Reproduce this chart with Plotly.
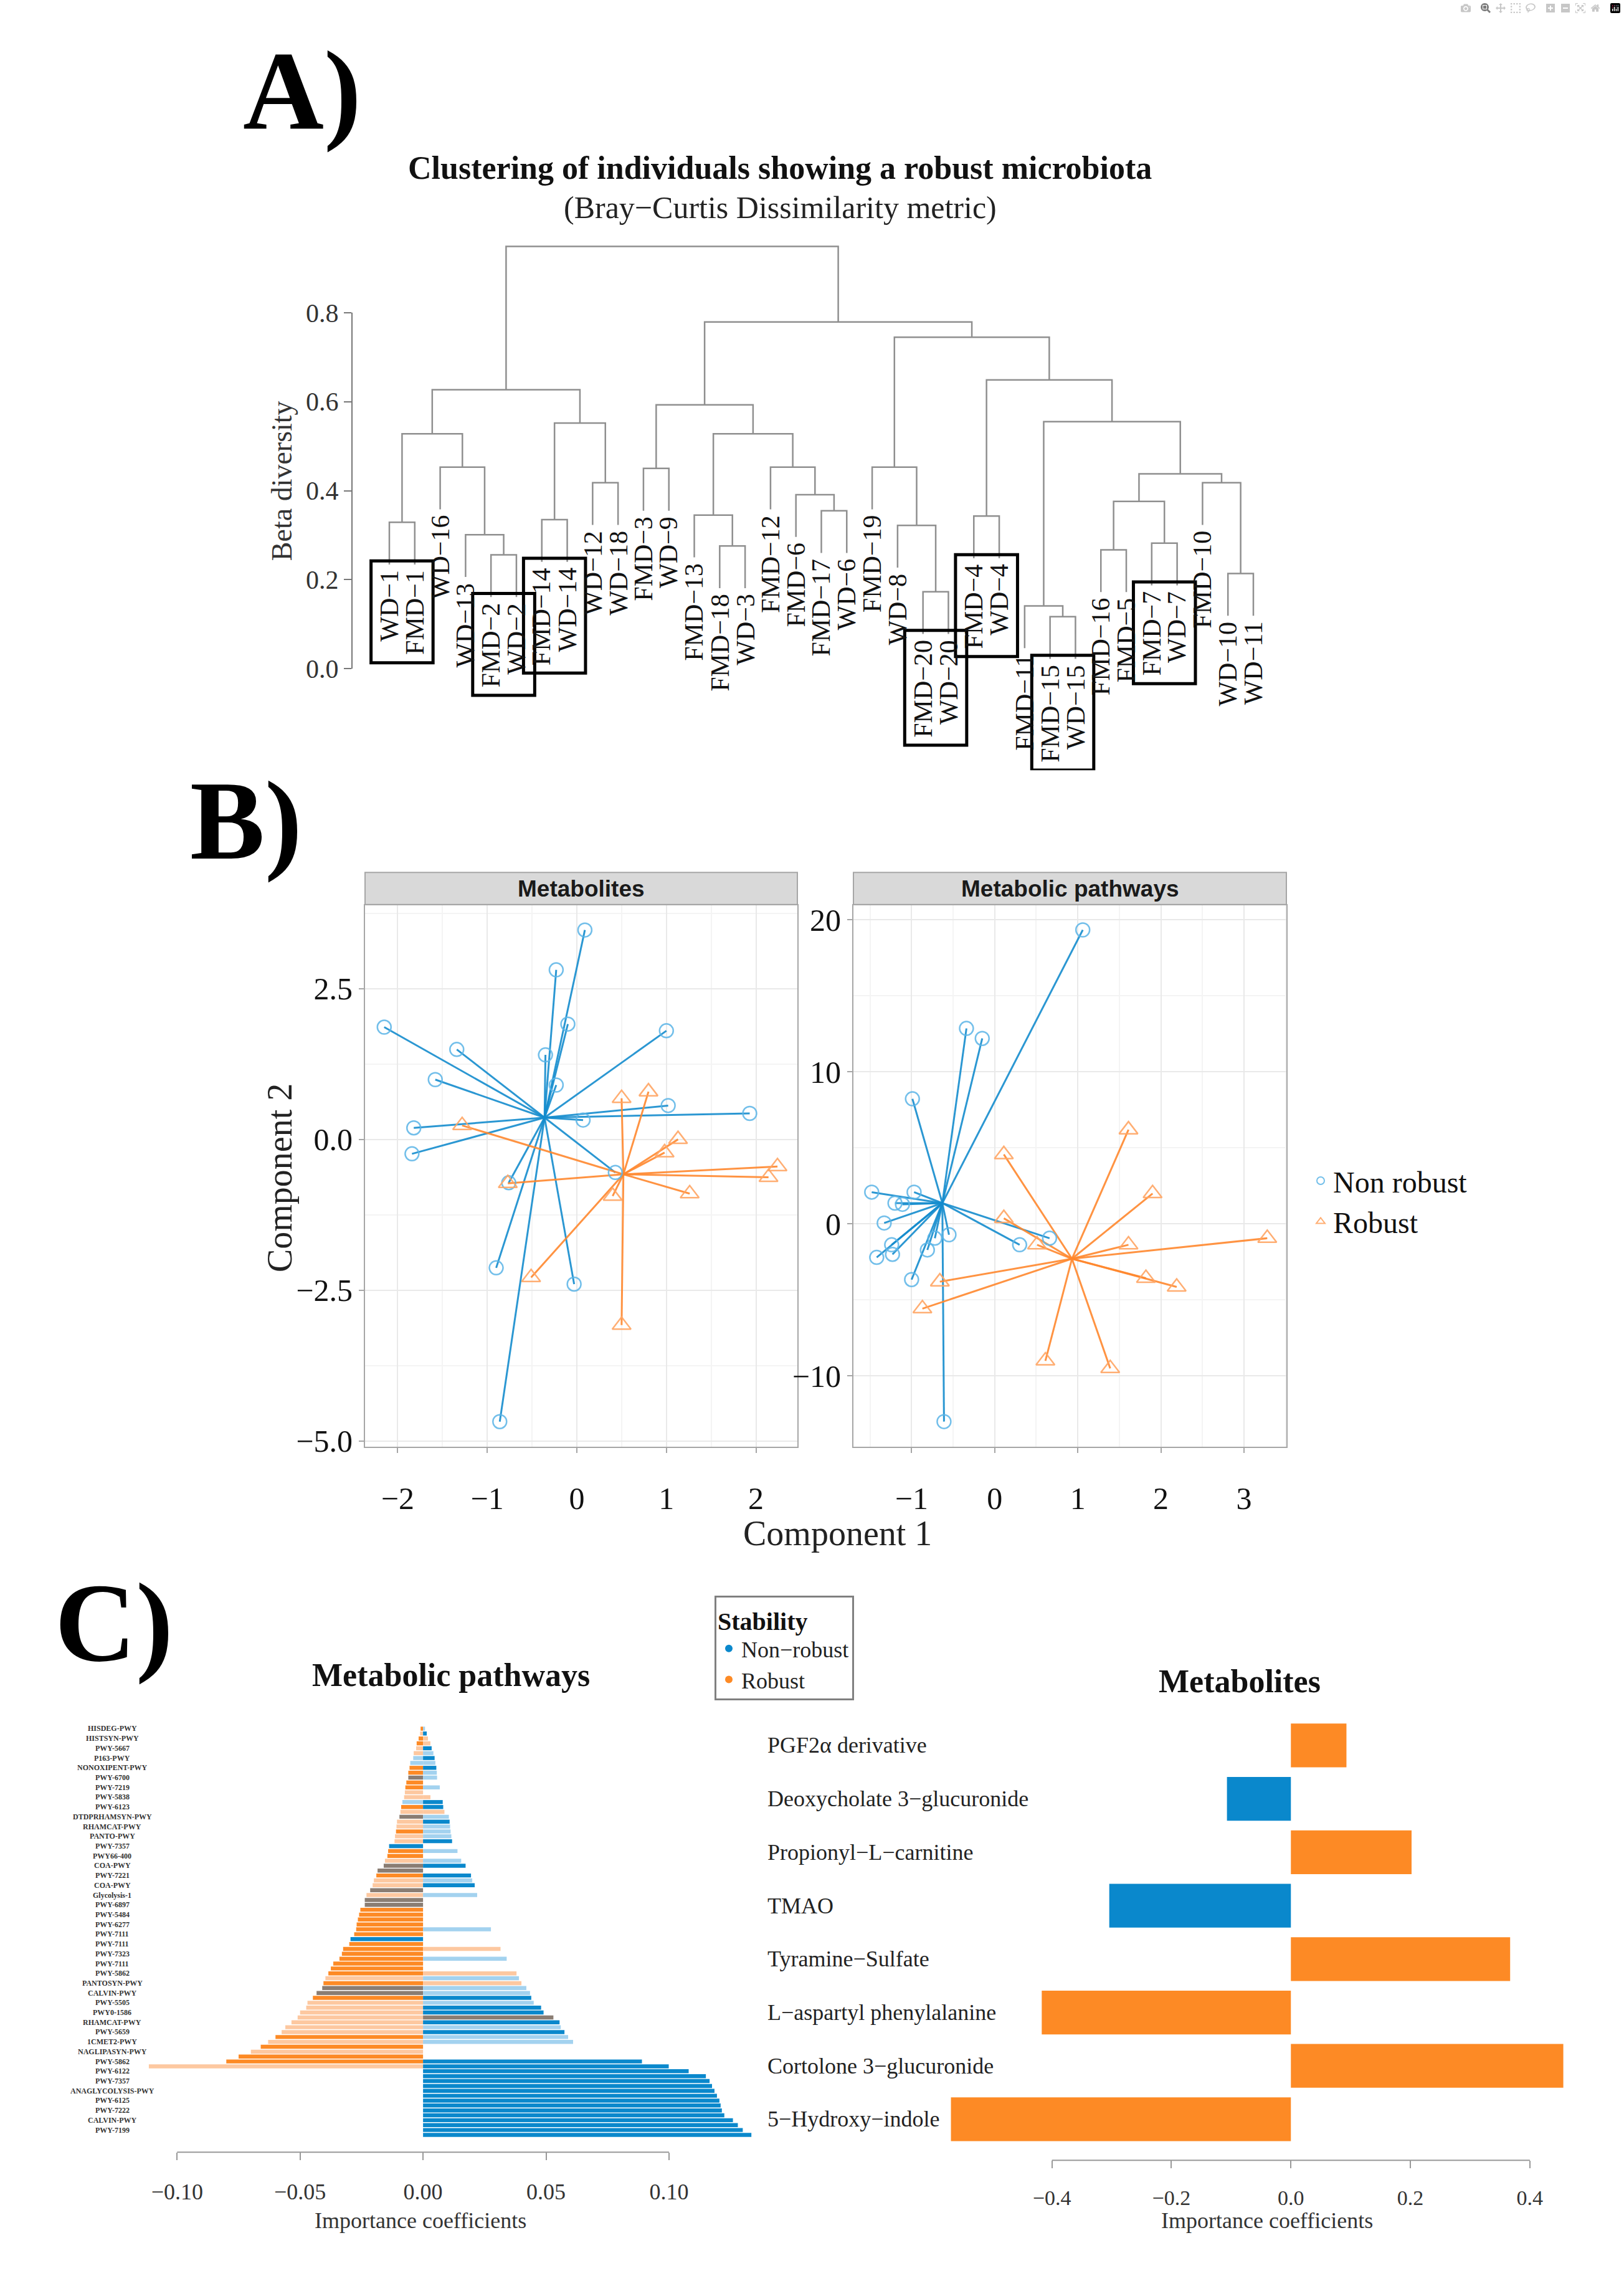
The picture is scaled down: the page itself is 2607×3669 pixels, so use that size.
import numpy as np
import plotly.graph_objects as go

W, H = 2607, 3669
SERIF = "Liberation Serif"
SANS = "Liberation Sans"


def fx(p):
    return p / W


def fy(p):
    return 1 - p / H


# ---------------- Panel A data (hierarchical clustering) ----------------
leaf_labels = ["WD−1", "FMD−1", "WD−16", "WD−13", "FMD−2", "WD−2", "FMD−14", "WD−14",
               "WD−12", "WD−18", "FMD−3", "WD−9", "FMD−13", "FMD−18", "WD−3", "FMD−12",
               "FMD−6", "FMD−17", "WD−6", "FMD−19", "WD−8", "FMD−20", "WD−20", "FMD−4",
               "WD−4", "FMD−11", "FMD−15", "WD−15", "FMD−16", "FMD−5", "FMD−7", "WD−7",
               "FMD−10", "WD−10", "WD−11"]
merge_a = [-27, -26, -22, -34, -5, -29, -14, -31, -4, -21, -1, -7, -24, -13, -18, 6, -17,
           -9, -33, 16, -11, -3, -16, -20, 11, 14, 12, 2, 21, 25, 13, 24, 29, 30]
merge_b = [-28, 1, -23, -35, -6, -30, -15, -32, 5, 3, -2, -8, -25, 7, -19, 8, 15,
           -10, 4, 19, -12, 9, 17, 10, 22, 23, 18, 20, 26, 27, 28, 31, 32, 33]
merge_height = [0.117, 0.141, 0.173, 0.214, 0.256, 0.267, 0.276, 0.282, 0.301, 0.322,
                0.329, 0.335, 0.343, 0.345, 0.355, 0.376, 0.391, 0.418, 0.418, 0.438,
                0.450, 0.453, 0.453, 0.453, 0.528, 0.528, 0.552, 0.555, 0.593, 0.627,
                0.649, 0.745, 0.779, 0.949]
boxed_pairs = [("WD−1", "FMD−1"), ("FMD−2", "WD−2"), ("FMD−14", "WD−14"),
               ("FMD−20", "WD−20"), ("FMD−4", "WD−4"), ("FMD−15", "WD−15"),
               ("FMD−7", "WD−7")]
dendro_ticks = [0.0, 0.2, 0.4, 0.6, 0.8]

# ---------------- Panel B data (sPLS-DA individuals) ----------------
met_nonrobust_x = [0.09, -0.23, -0.10, -2.15, 1.00, -1.34, -0.35, -1.58, -0.23, 1.02,
                   1.93, 0.07, -1.82, -1.84, 0.43, -0.76, -0.90, -0.03, -0.86]
met_nonrobust_y = [3.47, 2.81, 1.91, 1.86, 1.80, 1.49, 1.40, 0.99, 0.90, 0.56,
                   0.43, 0.32, 0.19, -0.24, -0.55, -0.72, -2.13, -2.40, -4.68]
met_robust_x = [-1.28, 0.50, 0.80, 1.13, 0.98, 2.24, 2.14, 1.26, 0.40, -0.77, -0.51, 0.50]
met_robust_y = [0.23, 0.68, 0.79, 0.00, -0.22, -0.45, -0.63, -0.90, -0.94, -0.73, -2.29, -3.08]
met_centroids = {"Non robust": (-0.36, 0.36), "Robust": (0.52, -0.58)}

pw_nonrobust_x = [1.06, -0.34, -0.15, -0.99, -1.48, -0.97, -1.20, -1.11, -1.33, -0.55,
                  -0.72, 0.30, 0.66, -1.24, -1.42, -1.23, -0.81, -1.00, -0.61]
pw_nonrobust_y = [19.34, 12.86, 12.20, 8.23, 2.09, 2.09, 1.37, 1.29, 0.06, -0.71,
                  -0.94, -1.37, -0.94, -1.37, -2.20, -2.00, -1.71, -3.66, -13.00]
pw_robust_x = [1.61, 0.11, 1.90, 0.11, 1.61, 3.28, 0.51, 1.82, 2.19, -0.66, -0.87, 0.61, 1.39]
pw_robust_y = [6.20, 4.57, 2.00, 0.37, -1.37, -0.94, -1.37, -3.57, -4.14, -3.80, -5.57, -9.00, -9.50]
pw_centroids = {"Non robust": (-0.63, 1.37), "Robust": (0.93, -2.29)}

# ---------------- Panel C data ----------------
pathway_labels = ["HISDEG-PWY", "HISTSYN-PWY", "PWY-5667", "P163-PWY", "NONOXIPENT-PWY",
                  "PWY-6700", "PWY-7219", "PWY-5838", "PWY-6123", "DTDPRHAMSYN-PWY",
                  "RHAMCAT-PWY", "PANTO-PWY", "PWY-7357", "PWY66-400", "COA-PWY",
                  "PWY-7221", "COA-PWY", "Glycolysis-1", "PWY-6897", "PWY-5484",
                  "PWY-6277", "PWY-7111", "PWY-7111", "PWY-7323", "PWY-7111",
                  "PWY-5862", "PANTOSYN-PWY", "CALVIN-PWY", "PWY-5505", "PWY0-1586",
                  "RHAMCAT-PWY", "PWY-5659", "1CMET2-PWY", "NAGLIPASYN-PWY", "PWY-5862",
                  "PWY-6122", "PWY-7357", "ANAGLYCOLYSIS-PWY", "PWY-6125", "PWY-7222",
                  "CALVIN-PWY", "PWY-7199"]
pw_coef_neg = [-0.0010, -0.0012, -0.0018, -0.0026, -0.0028, -0.0038, -0.0040, -0.0052, -0.0055, -0.0060,
               -0.0060, -0.0068, -0.0072, -0.0074, -0.0077, -0.0084, -0.0089, -0.0092, -0.0096, -0.0106,
               -0.0108, -0.0110, -0.0114, -0.0116, -0.0138, -0.0142, -0.0145, -0.0155, -0.0160, -0.0185,
               -0.0190, -0.0200, -0.0205, -0.0215, -0.0230, -0.0237, -0.0237, -0.0255, -0.0260, -0.0265,
               -0.0270, -0.0272, -0.0280, -0.0295, -0.0300, -0.0325, -0.0330, -0.0340, -0.0365, -0.0375,
               -0.0385, -0.0397, -0.0405, -0.0410, -0.0433, -0.0448, -0.0470, -0.0475, -0.0500, -0.0510,
               -0.0535, -0.0560, -0.0575, -0.0600, -0.0630, -0.0660, -0.0700, -0.0750, -0.0800, -0.1115,
               0, 0, 0, 0, 0, 0, 0, 0, 0, 0, 0, 0, 0, 0]
pw_class_neg = list("OoOOoobbOO" "GOOoobOoGo" "oOooBOOoGG" "OooGoGGOOO" "OOOBOOOOOO"
                    "OoOGGOoooo" "oooOoOoOOo" "OOOOOOOOOOOOOO")
pw_coef_pos = [0.0008, 0.0015, 0.0020, 0.0030, 0.0035, 0.0042, 0.0047, 0.0050, 0.0054, 0.0056,
               0.0057, 0.0000, 0.0068, 0.0000, 0.0030, 0.0080, 0.0082, 0.0087, 0.0105, 0.0108,
               0.0110, 0.0112, 0.0115, 0.0118, 0.0000, 0.0140, 0.0000, 0.0155, 0.0173, 0.0000,
               0.0195, 0.0200, 0.0210, 0.0000, 0.0220, 0, 0, 0, 0, 0,
               0, 0.0276, 0, 0, 0, 0.0315, 0, 0.0340, 0, 0,
               0.0380, 0.0390, 0.0400, 0.0420, 0.0435, 0.0440, 0.0450, 0.0480, 0.0490, 0.0530,
               0.0555, 0.0560, 0.0575, 0.0590, 0.0610, 0, 0, 0, 0.0890, 0.0999,
               0.1080, 0.1150, 0.1165, 0.1175, 0.1185, 0.1195, 0.1205, 0.1210, 0.1215, 0.1225,
               0.1260, 0.1280, 0.1300, 0.1335]
pw_class_pos = list("bBooBbBbBb" "bbbboBBobB" "bbbBbbbbBb" "BbBbbbbbbb" "bbbbbobbbb"
                    "obobbBbBBG" "BbBbbbbbBB" "BBBBBBBBBBBBBB")

metab_names = ["PGF2α derivative", "Deoxycholate 3−glucuronide", "Propionyl−L−carnitine",
               "TMAO", "Tyramine−Sulfate", "L−aspartyl phenylalanine",
               "Cortolone 3−glucuronide", "5−Hydroxy−indole"]
metab_coef = [0.093, -0.107, 0.202, -0.304, 0.367, -0.417, 0.456, -0.569]
metab_group = ["Robust", "Non−robust", "Robust", "Non−robust", "Robust", "Robust", "Robust", "Robust"]

# ---------------- styles ----------------
BLUE = "#0a88cc"
ORANGE = "#fd8a25"
class_color = {"O": ORANGE, "o": "#fdc8a0", "B": BLUE, "b": "#a3d2ef", "G": "#8a7d73"}
group_color = {"Robust": ORANGE, "Non−robust": BLUE}
LINE_BLUE = "rgba(20,140,205,0.9)"
LINE_ORANGE = "rgba(255,135,45,0.9)"
PT_BLUE = "rgba(90,180,230,0.85)"
PT_ORANGE = "rgba(255,165,100,0.9)"

fig = go.Figure()
shapes = []
annotations = []


def pa(text, x, y, size, family=SERIF, color="#111", angle=0):
    """paper-referenced annotation centred on original-pixel position (x, y)"""
    return dict(x=fx(x), y=fy(y), xref="paper", yref="paper", text=text, showarrow=False,
                xanchor="center", yanchor="middle", textangle=angle,
                font=dict(family=family, size=size, color=color))


# ================= Panel A =================
n_leaf = len(leaf_labels)
hang = 0.1 * max(merge_height)
node_x, node_h = {}, {}
leaf_end = [0.0] * n_leaf
seg_x, seg_y = [], []
for k, (a, b, h) in enumerate(zip(merge_a, merge_b, merge_height), start=1):
    pts = []
    for c in (a, b):
        if c < 0:
            xc, yc = -c, h - hang
            leaf_end[-c - 1] = yc
        else:
            xc, yc = node_x[c], node_h[c]
        pts.append((xc, yc))
    node_x[k] = (pts[0][0] + pts[1][0]) / 2
    node_h[k] = h
    seg_x += [pts[0][0], pts[0][0], pts[1][0], pts[1][0], None]
    seg_y += [pts[0][1], h, h, pts[1][1], None]

fig.add_trace(go.Scatter(x=seg_x, y=seg_y, mode="lines", xaxis="x", yaxis="y",
                         line=dict(color="#8f8f8f", width=2.5), showlegend=False,
                         hoverinfo="skip"))

A_left, A_right, A_top, A_bot = 565, 2060, 380, 1240
leaf1_px, leafN_px = 625, 2012
leaf_sp = (leafN_px - leaf1_px) / (n_leaf - 1)
y0_px, y08_px = 1076, 501
ppu = (y0_px - y08_px) / 0.8
a_xr = [1 + (A_left - leaf1_px) / leaf_sp, 1 + (A_right - leaf1_px) / leaf_sp]
a_yr = [-(A_bot - y0_px) / ppu, (y0_px - A_top) / ppu]

LEAF_FS = 42
charw = {"W": 0.944, "D": 0.722, "F": 0.556, "M": 0.889, "−": 0.564}


def text_len(s):
    return sum(charw.get(ch, 0.5) for ch in s) * LEAF_FS / ppu


for i, lab in enumerate(leaf_labels):
    annotations.append(dict(x=i + 1, y=leaf_end[i] - 0.010, xref="x", yref="y", text=lab,
                            textangle=-90, xanchor="center", yanchor="top", showarrow=False,
                            font=dict(family=SERIF, size=LEAF_FS, color="#111")))

for p, q in boxed_pairs:
    i, j = leaf_labels.index(p), leaf_labels.index(q)
    top = max(leaf_end[i], leaf_end[j]) + 0.008
    bot = min(leaf_end[i] - text_len(p), leaf_end[j] - text_len(q)) - 0.032
    shapes.append(dict(type="rect", xref="x", yref="y", x0=min(i, j) + 1 - 0.72,
                       x1=max(i, j) + 1 + 0.72, y0=bot, y1=top,
                       line=dict(color="black", width=5), fillcolor="rgba(0,0,0,0)"))

shapes.append(dict(type="line", xref="paper", yref="y", x0=fx(A_left), x1=fx(A_left),
                   y0=dendro_ticks[0], y1=dendro_ticks[-1], line=dict(color="#777", width=2)))

annotations += [
    pa("<b>Clustering of individuals showing a robust microbiota</b>", 1252, 267, 52),
    pa("(Bray−Curtis Dissimilarity metric)", 1252, 331, 50, color="#222"),
    pa("Beta diversity", 452, 773, 46, color="#333", angle=-90),
]

# ================= Panel B =================


def spokes(xs, ys, c):
    lx, ly = [], []
    for x, y in zip(xs, ys):
        lx += [c[0], x, None]
        ly += [c[1], y, None]
    return lx, ly


panelB = [
    ("x2", "y2", met_nonrobust_x, met_nonrobust_y, met_robust_x, met_robust_y, met_centroids, True),
    ("x3", "y3", pw_nonrobust_x, pw_nonrobust_y, pw_robust_x, pw_robust_y, pw_centroids, False),
]
for xa, ya, nx, ny, rx, ry, cen, legend in panelB:
    lx, ly = spokes(nx, ny, cen["Non robust"])
    fig.add_trace(go.Scatter(x=lx, y=ly, mode="lines", xaxis=xa, yaxis=ya,
                             line=dict(color=LINE_BLUE, width=3), showlegend=False, hoverinfo="skip"))
    lx, ly = spokes(rx, ry, cen["Robust"])
    fig.add_trace(go.Scatter(x=lx, y=ly, mode="lines", xaxis=xa, yaxis=ya,
                             line=dict(color=LINE_ORANGE, width=3), showlegend=False, hoverinfo="skip"))
    fig.add_trace(go.Scatter(x=nx, y=ny, mode="markers", xaxis=xa, yaxis=ya, name="Non robust",
                             marker=dict(symbol="circle-open", size=22, color=PT_BLUE,
                                         line=dict(width=2.5, color=PT_BLUE)),
                             showlegend=legend, legend="legend"))
    fig.add_trace(go.Scatter(x=rx, y=ry, mode="markers", xaxis=xa, yaxis=ya, name="Robust",
                             marker=dict(symbol="triangle-up-open", size=26, color=PT_ORANGE,
                                         line=dict(width=2.5, color=PT_ORANGE)),
                             showlegend=legend, legend="legend"))

B_top, B_bot = 1458.6, 2333
strips = [("Metabolites", 586, 1280), ("Metabolic pathways", 1370, 2065)]
for name, l, r in strips:
    shapes.append(dict(type="rect", xref="paper", yref="paper", x0=fx(l), x1=fx(r),
                       y0=fy(1457), y1=fy(1405), fillcolor="#d9d9d9",
                       line=dict(color="#a6a6a6", width=2)))
    annotations.append(pa("<b>%s</b>" % name, (l + r) / 2, 1431, 37, family=SANS, color="#1a1a1a"))

annotations += [
    pa("Component 1", 1344, 2472, 56, color="#222"),
    pa("Component 2", 449, 1899, 56, color="#222", angle=-90),
]

# ================= Panel C =================
rows = list(range(len(pw_coef_neg)))
fig.add_trace(go.Bar(x=pw_coef_neg, y=rows, orientation="h", xaxis="x4", yaxis="y4",
                     marker=dict(color=[class_color[c] for c in pw_class_neg], line=dict(width=0)),
                     width=0.82, showlegend=False, hoverinfo="skip"))
fig.add_trace(go.Bar(x=pw_coef_pos, y=rows, orientation="h", xaxis="x4", yaxis="y4",
                     marker=dict(color=[class_color[c] for c in pw_class_pos], line=dict(width=0)),
                     width=0.82, showlegend=False, hoverinfo="skip"))
for k, lab in enumerate(pathway_labels):
    annotations.append(dict(x=fx(180), y=2 * k, xref="paper", yref="y4", text="<b>%s</b>" % lab,
                            showarrow=False, xanchor="center", yanchor="middle",
                            font=dict(family=SERIF, size=12, color="#333")))

fig.add_trace(go.Bar(x=metab_coef, y=metab_names, orientation="h", xaxis="x5", yaxis="y5",
                     marker=dict(color=[group_color[g] for g in metab_group], line=dict(width=0)),
                     width=0.82, showlegend=False, hoverinfo="skip"))
for nm in metab_names:
    annotations.append(dict(x=fx(1230), y=nm, xref="paper", yref="y5", text=nm,
                            showarrow=False, xanchor="left", yanchor="middle",
                            font=dict(family=SERIF, size=36, color="#222")))

for g in ["Non−robust", "Robust"]:
    fig.add_trace(go.Scatter(x=[None], y=[None], mode="markers", name=g, xaxis="x5", yaxis="y5",
                             marker=dict(color=group_color[g], size=14), legend="legend2"))

C4_axis_y, C5_axis_y = 3472, 3485
shapes.append(dict(type="line", xref="x4", yref="paper", x0=-0.10, x1=0.10,
                   y0=fy(C4_axis_y), y1=fy(C4_axis_y), line=dict(color="#999", width=2)))
shapes.append(dict(type="line", xref="x5", yref="paper", x0=-0.4, x1=0.4,
                   y0=fy(C5_axis_y), y1=fy(C5_axis_y), line=dict(color="#999", width=2)))

annotations += [
    pa("<b>Metabolic pathways</b>", 724, 2701, 52),
    pa("<b>Metabolites</b>", 1990, 2712, 52),
    pa("Importance coefficients", 675, 3582, 36, color="#333"),
    pa("Importance coefficients", 2034, 3582, 36, color="#333"),
]

# panel letters
for letter, cx, cy in [("A)", 485, 142), ("B)", 395, 1322), ("C)", 183, 2617)]:
    annotations.append(pa("<b>%s</b>" % letter, cx, cy, 180, color="black"))

# ================= Layout =================
gridB = dict(showgrid=True, gridcolor="#e9e9e9", gridwidth=2, zeroline=False,
             showline=True, mirror=True, linecolor="#a6a6a6", linewidth=2,
             ticks="outside", ticklen=8, tickwidth=2, tickcolor="#a6a6a6",
             tickfont=dict(family=SERIF, size=50, color="#111"))


def minor(d):
    return dict(dtick=d, showgrid=True, gridcolor="#f4f4f4", gridwidth=1.5)


fig.update_layout(
    width=W, height=H, autosize=False, margin=dict(l=0, r=0, t=0, b=0),
    paper_bgcolor="white", plot_bgcolor="white", barmode="overlay",
    shapes=shapes, annotations=annotations,
    xaxis=dict(domain=[fx(A_left), fx(A_right)], range=a_xr, visible=False, anchor="y"),
    yaxis=dict(domain=[fy(A_bot), fy(A_top)], range=a_yr, anchor="x", tickvals=dendro_ticks,
               tickformat=".1f", ticks="outside", ticklen=12, tickwidth=2, tickcolor="#777",
               showgrid=False, zeroline=False, showline=False,
               tickfont=dict(family=SERIF, size=42, color="#333")),
    xaxis2=dict(domain=[fx(586), fx(1280)], range=[-2.364, 2.462], anchor="y2", dtick=1, tick0=0,
                minor=minor(0.5), ticklabelstandoff=30, **gridB),
    yaxis2=dict(domain=[fy(B_bot), fy(B_top)], range=[-5.10, 3.875], anchor="x2", dtick=2.5, tick0=0,
                tickformat=".1f", minor=minor(1.25), **gridB),
    xaxis3=dict(domain=[fx(1370), fx(2065)], range=[-1.70, 3.51], anchor="y3", dtick=1, tick0=0,
                minor=minor(0.5), ticklabelstandoff=30, **gridB),
    yaxis3=dict(domain=[fy(B_bot), fy(B_top)], range=[-14.67, 20.94], anchor="x3", dtick=10, tick0=0,
                minor=minor(5), **gridB),
    xaxis4=dict(domain=[fx(233), fx(1220)], range=[-0.113, 0.137], anchor="free",
                position=fy(C4_axis_y), tickvals=[-0.10, -0.05, 0, 0.05, 0.10], tickformat=".2f",
                ticks="outside", ticklen=12, tickwidth=2, tickcolor="#999", showgrid=False,
                zeroline=False, showline=False, ticklabelstandoff=20,
                tickfont=dict(family=SERIF, size=36, color="#333")),
    yaxis4=dict(domain=[fy(3448), fy(2784)], range=[len(rows) - 0.5, -0.5], anchor="x4", visible=False),
    xaxis5=dict(domain=[fx(1516), fx(2523)], range=[-0.58, 0.47], anchor="free",
                position=fy(C5_axis_y), tickvals=[-0.4, -0.2, 0, 0.2, 0.4], tickformat=".1f",
                ticks="outside", ticklen=12, tickwidth=2, tickcolor="#999", showgrid=False,
                zeroline=False, showline=False, ticklabelstandoff=18,
                tickfont=dict(family=SERIF, size=34, color="#333")),
    yaxis5=dict(domain=[fy(3462), fy(2772)], anchor="x5", type="category",
                categoryorder="array", categoryarray=metab_names, autorange="reversed", visible=False),
    legend=dict(x=fx(2100), y=fy(1936), xanchor="left", yanchor="middle",
                font=dict(family=SERIF, size=48, color="#111"), bgcolor="rgba(0,0,0,0)",
                itemsizing="constant", tracegroupgap=0),
    legend2=dict(x=fx(1147), y=fy(2573), xanchor="left", yanchor="top", bgcolor="white",
                 bordercolor="#808080", borderwidth=3, itemsizing="constant",
                 title=dict(text="<b>Stability</b>", font=dict(family=SERIF, size=40, color="#111")),
                 font=dict(family=SERIF, size=36, color="#222"), tracegroupgap=0),
)

fig.write_html("out.html", post_script="document.body.style.margin='0px';")
